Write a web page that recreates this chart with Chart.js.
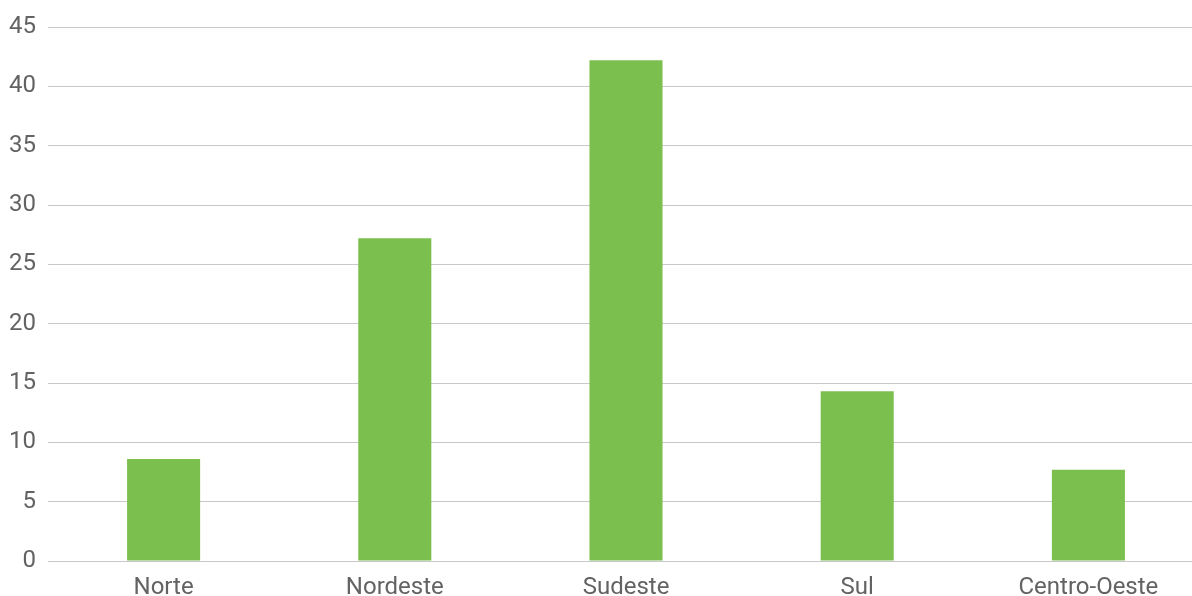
<!DOCTYPE html>
<html>
<head>
<meta charset="utf-8">
<script src="https://cdn.jsdelivr.net/npm/chart.js@4/dist/chart.umd.min.js"></script>
<style>
  html, body { margin: 0; padding: 0; background: #ffffff; overflow: hidden; }
  #wrap { position: relative; width: 1204px; height: 596px; }
</style>
</head>
<body>
<div id="wrap"><canvas id="chart" width="1204" height="596"></canvas></div>
<script>
// Regional values per category
const regions = ['Norte', 'Nordeste', 'Sudeste', 'Sul', 'Centro-Oeste'];
const values = [8.6, 27.2, 42.2, 14.3, 7.7];
const yTicks = [0, 5, 10, 15, 20, 25, 30, 35, 40, 45];

const textColor = '#636363';
const gridColor = '#c8c8c8';
const barColor = '#7bbf4f';

new Chart(document.getElementById('chart'), {
  type: 'bar',
  data: {
    labels: regions,
    datasets: [{
      data: values,
      backgroundColor: barColor,
      borderWidth: 0,
      barPercentage: 1,
      categoryPercentage: 0.316
    }]
  },
  options: {
    responsive: false,
    animation: false,
    devicePixelRatio: 1,
    layout: { padding: { top: 27, right: 0, bottom: 0, left: 0 } },
    plugins: { legend: { display: false }, tooltip: { enabled: false } },
    scales: {
      x: {
        grid: { display: false, drawTicks: false },
        border: { display: false },
        ticks: {
          color: textColor,
          font: { family: 'Roboto', size: 24 },
          padding: 13,
          maxRotation: 0,
          autoSkip: false
        },
        afterFit: (s) => { s.height = 35; }
      },
      y: {
        min: 0,
        max: 45,
        afterBuildTicks: (s) => { s.ticks = yTicks.map(v => ({ value: v })); },
        grid: { color: gridColor, lineWidth: 1, drawTicks: false },
        border: { display: false },
        ticks: {
          color: textColor,
          font: { family: 'Roboto', size: 24 },
          padding: 12
        },
        afterFit: (s) => { s.width = 48; }
      }
    }
  }
});
</script>
</body>
</html>
